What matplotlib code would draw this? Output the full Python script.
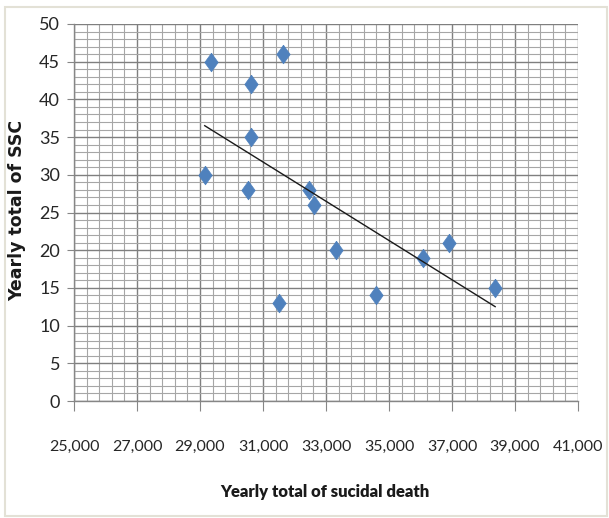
import numpy as np
import matplotlib.pyplot as plt
from matplotlib.patches import Rectangle
from matplotlib.ticker import FixedLocator, MultipleLocator, FuncFormatter

# yearly totals
suicidal_deaths = [29150, 29340, 30610, 30610, 30530, 31650, 31500,
                   32450, 32630, 33310, 34590, 36070, 36920, 38370]
ssc_totals = [30, 45, 42, 35, 28, 46, 13, 28, 26, 20, 14, 19, 21, 15]

x_ticks = [25000, 27000, 29000, 31000, 33000, 35000, 37000, 39000, 41000]
y_ticks = [0, 5, 10, 15, 20, 25, 30, 35, 40, 45, 50]

tick_font = ['Lato', 'DejaVu Sans']

fig = plt.figure(figsize=(6.09, 5.18), dpi=100)
ax = fig.add_axes([74 / 609, 1 - 401 / 518, 504 / 609, 377 / 518])

# chart area border
fig.patches.append(Rectangle((5 / 609, 2 / 518), 602 / 609, 509 / 518,
                             transform=fig.transFigure, fill=False,
                             edgecolor='#e3e1d6', linewidth=1.5))

ax.set_xlim(x_ticks[0], x_ticks[-1])
ax.set_ylim(y_ticks[0], y_ticks[-1])
ax.xaxis.set_major_locator(FixedLocator(x_ticks))
ax.xaxis.set_minor_locator(FixedLocator(np.arange(x_ticks[0], x_ticks[-1] + 1, 400)))
ax.yaxis.set_major_locator(FixedLocator(y_ticks))
ax.yaxis.set_minor_locator(MultipleLocator(1))
ax.xaxis.set_major_formatter(FuncFormatter(lambda v, p: f"{int(v):,}"))

ax.grid(which='major', color='#7f7f7f', linewidth=1.0)
ax.grid(which='minor', color='#a6a6a6', linewidth=0.8)
ax.set_axisbelow(True)

for s in ['top', 'right']:
    ax.spines[s].set_visible(False)
for s in ['left', 'bottom']:
    ax.spines[s].set_color('#868686')
    ax.spines[s].set_linewidth(1.0)

ax.tick_params(which='major', axis='x', direction='out', length=7,
               color='#868686', pad=21)
ax.tick_params(which='major', axis='y', direction='out', length=5,
               color='#868686', pad=5)
ax.tick_params(which='minor', length=0)

for lab in ax.get_xticklabels():
    lab.set_family(tick_font)
    lab.set_fontsize(11.5)
    lab.set_color('#262626')
for lab in ax.get_yticklabels():
    lab.set_family(tick_font)
    lab.set_fontsize(13)
    lab.set_color('#262626')

# Excel-style diamond, a bit taller than wide
diamond = [(0, 1), (0.72, 0), (0, -1), (-0.72, 0), (0, 1)]
ax.scatter(suicidal_deaths, ssc_totals, marker=diamond, s=180,
           color='#4f81bd', edgecolors='#4f81bd', linewidths=0.5, zorder=3)

# linear trendline
coef = np.polyfit(suicidal_deaths, ssc_totals, 1)
xs = np.array([min(suicidal_deaths), max(suicidal_deaths)])
ax.plot(xs, np.polyval(coef, xs), color='#1a1a1a', linewidth=1.0, zorder=4)

fig.text(325 / 609, 1 - 492 / 518, 'Yearly total of sucidal death',
         ha='center', va='center', fontsize=12, fontweight='heavy',
         family=tick_font, color='#1a1a1a')
fig.text(17 / 609, 1 - 210 / 518, 'Yearly total of SSC', rotation=90,
         ha='center', va='center', fontsize=12.5, fontweight='bold',
         family='DejaVu Sans', color='#1a1a1a')

fig.savefig('out.png', dpi=100)
